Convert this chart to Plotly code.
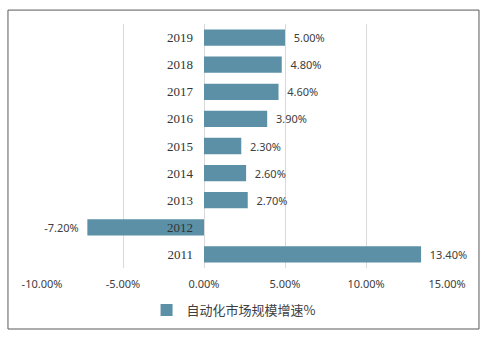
import plotly.graph_objects as go

years = ["2011", "2012", "2013", "2014", "2015", "2016", "2017", "2018", "2019"]
growth = [13.40, -7.20, 2.70, 2.60, 2.30, 3.90, 4.60, 4.80, 5.00]
labels = ["13.40%", "-7.20%", "2.70%", "2.60%", "2.30%", "3.90%", "4.60%", "4.80%", "5.00%"]
x_ticks = [-10, -5, 0, 5, 10, 15]
x_tick_text = ["-10.00%", "-5.00%", "0.00%", "5.00%", "10.00%", "15.00%"]
series_name = "自动化市场规模增速%"

color = "#5B90A7"
templates = ["  %{text}" if v >= 0 else "%{text}  " for v in growth]

fig = go.Figure()
fig.add_trace(go.Bar(
    y=years, x=growth, orientation="h", name=series_name,
    marker=dict(color=color, line=dict(width=0)),
    width=0.6,
    text=labels, texttemplate=templates, textposition="outside",
    textfont=dict(family="Noto Sans, DejaVu Sans", size=11, color="#404040"),
    cliponaxis=False, hoverinfo="skip",
))

fig.update_layout(
    width=490, height=340,
    margin=dict(l=42, r=43, t=24, b=72),
    paper_bgcolor="white", plot_bgcolor="white",
    showlegend=True,
    legend=dict(orientation="h", x=0.473, xanchor="center", y=-0.172, yanchor="middle",
                font=dict(family="Noto Sans CJK SC", size=13, color="#404040"),
                itemwidth=30),
    shapes=[dict(type="rect", xref="paper", yref="paper",
                 x0=-0.084, x1=1.079, y0=-0.25, y1=1.057,
                 line=dict(color="#595959", width=1), fillcolor="rgba(0,0,0,0)",
                 layer="below")],
)
fig.update_xaxes(range=[-10, 15], tickvals=x_ticks, ticktext=x_tick_text,
                 showgrid=True, gridcolor="#D9D9D9", gridwidth=1,
                 zeroline=False, showline=False,
                 tickfont=dict(family="Noto Sans, DejaVu Sans", size=11, color="#404040"),
                 ticks="", ticklabelstandoff=8)
fig.update_yaxes(showticklabels=True, showgrid=False, zeroline=False, showline=False,
                 anchor="free", position=0.4, ticks="", ticklabelstandoff=11,
                 tickfont=dict(family="Liberation Serif, DejaVu Serif", size=13, color="#333333"),
                 categoryorder="array", categoryarray=years, range=[-0.5, 8.5])

fig.write_html("out.html")
